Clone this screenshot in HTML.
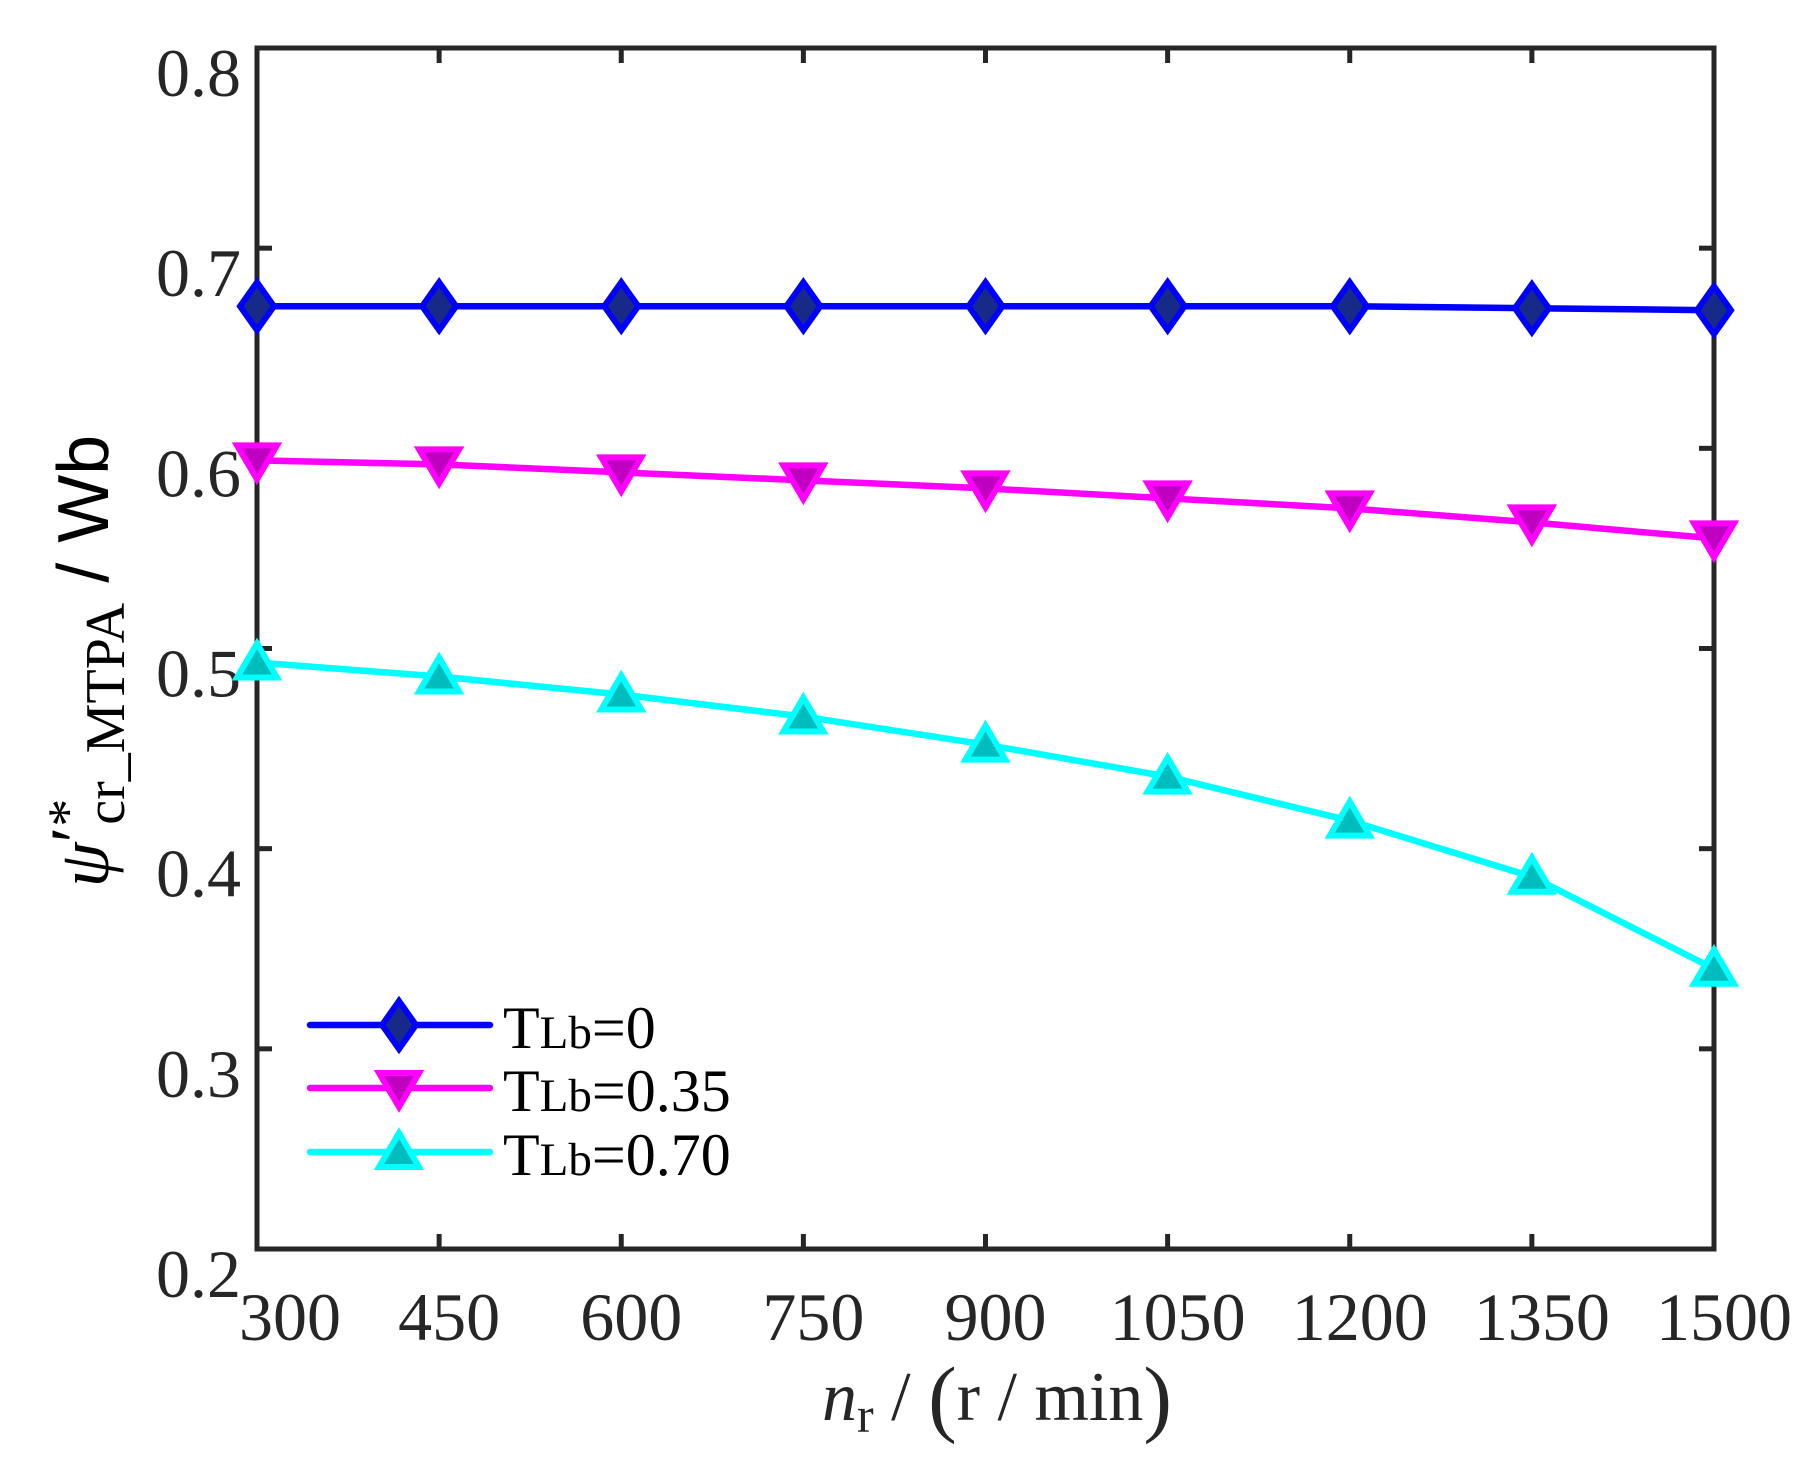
<!DOCTYPE html>
<html><head><meta charset="utf-8"><style>
body{margin:0;background:#fff;}
svg{display:block;font-family:"Liberation Serif",serif;}
</style></head><body>
<svg width="1809" height="1465" viewBox="0 0 1809 1465" id="chart"></svg>
<script>
const categories=[300,450,600,750,900,1050,1200,1350,1500];
const seriesT0=[0.671,0.671,0.671,0.671,0.671,0.671,0.671,0.670,0.669];
const seriesT035=[0.594,0.592,0.588,0.584,0.580,0.575,0.570,0.563,0.555];
const seriesT070=[0.493,0.486,0.477,0.466,0.452,0.436,0.414,0.386,0.340];
const yTicks=[0.2,0.3,0.4,0.5,0.6,0.7,0.8];
const xTickLabels=["300","450","600","750","900","1050","1200","1350","1500"];
const legendLabels=["0","0.35","0.70"];

const L=257,R=1714,T=48,B=1249;
const xs=v=>L+(v-300)/(1500-300)*(R-L);
const ys=v=>B-(v-0.2)/(0.8-0.2)*(B-T);
const NS="http://www.w3.org/2000/svg";
const svg=document.getElementById('chart');
function mk(tag,attrs,parent){const e=document.createElementNS(NS,tag);for(const k in attrs)e.setAttribute(k,attrs[k]);(parent||svg).appendChild(e);return e;}
const ax='#262626';
categories.forEach((c,i)=>{
  const x=xs(c);
  const t1=mk('line',{x1:x,x2:x,y1:B,y2:B-15,stroke:ax,'stroke-width':5});
  
  
  const t2=mk('line',{x1:x,x2:x,y1:T,y2:T+15,stroke:ax,'stroke-width':5});
  
  
  const lb=mk('text',{x:x+(i===0?33:10),y:1340,'font-size':68,'text-anchor':'middle',fill:ax});
  lb.textContent=xTickLabels[i];
  
  
});
yTicks.forEach(v=>{
  const y=ys(v);
  const t1=mk('line',{x1:L,x2:L+15,y1:y,y2:y,stroke:ax,'stroke-width':5});
  
  
  const t2=mk('line',{x1:R,x2:R-15,y1:y,y2:y,stroke:ax,'stroke-width':5});
  
  
  const lb=mk('text',{x:241,y:y+48,'font-size':68,'text-anchor':'end',fill:ax});
  lb.textContent=v.toFixed(1);
  
  
});
const frame=mk('rect',{x:L,y:T,width:R-L,height:B-T,fill:'none',stroke:ax,'stroke-width':5});



function marker(kind,x,y,parent){
  let pts;
  if(kind==='d')pts=[[x,y-24],[x+17,y],[x,y+24],[x-17,y]];
  else if(kind==='v')pts=[[x-20,y-15],[x+20,y-15],[x,y+19]];
  else pts=[[x-20,y+15],[x+20,y+15],[x,y-19]];
  return mk('polygon',{points:pts.map(p=>p.join(',')).join(' ')},parent);
}
const series=[
 {name:'series-tlb-0',data:seriesT0,line:'#0000ff',fill:'#172a88',m:'d'},
 {name:'series-tlb-035',data:seriesT035,line:'#ff00ff',fill:'#c000c0',m:'v'},
 {name:'series-tlb-070',data:seriesT070,line:'#00ffff',fill:'#00bdbd',m:'^'}];
series.forEach(s=>{
  const g=mk('g',{});
  
  
  const pl=mk('polyline',{points:s.data.map((v,i)=>xs(categories[i])+','+ys(v)).join(' '),fill:'none',stroke:s.line,'stroke-width':6.5},g);
  
  
  s.data.forEach((v,i)=>{
    const m=marker(s.m,xs(categories[i]),ys(v),g);
    m.setAttribute('fill',s.fill);m.setAttribute('stroke',s.line);m.setAttribute('stroke-width',6);
    
    
  });
});
const lg=mk('g',{});


const ly=[1025,1088,1152];
series.forEach((s,i)=>{
  const e=mk('g',{},lg);
  
  
  mk('line',{x1:310,x2:490,y1:ly[i],y2:ly[i],stroke:s.line,'stroke-width':6.5,'stroke-linecap':'round'},e);
  const m=marker(s.m,399,ly[i],e);
  m.setAttribute('fill',s.fill);m.setAttribute('stroke',s.line);m.setAttribute('stroke-width',6);
  const t=mk('text',{x:503,y:ly[i]+23,'font-size':60,fill:'#000'},e);
  t.innerHTML='T<tspan font-size="47">Lb</tspan>='+legendLabels[i];
});
</script>
<svg style="position:absolute;left:0;top:0" width="1809" height="1465">
<text transform="translate(108,661) rotate(-90)" text-anchor="middle" font-family="Liberation Serif,serif" font-size="72" fill="#000"><tspan font-style="italic">ψ</tspan><tspan dy="-8">′</tspan><tspan dy="-14" font-size="56">*</tspan><tspan dx="-26" dy="38" font-size="56">cr_MTPA</tspan><tspan dy="-16" font-family="Liberation Sans,sans-serif">  / Wb</tspan></text>
<text x="997" y="1420" text-anchor="middle" font-family="Liberation Serif,serif" font-size="70" fill="#262626"><tspan font-style="italic">n</tspan><tspan font-size="50" dy="12">r</tspan><tspan dy="-12"> / </tspan><tspan font-size="86" dy="6">(</tspan><tspan dy="-6">r / min</tspan><tspan font-size="86" dy="6">)</tspan></text>
</svg>
</body></html>
